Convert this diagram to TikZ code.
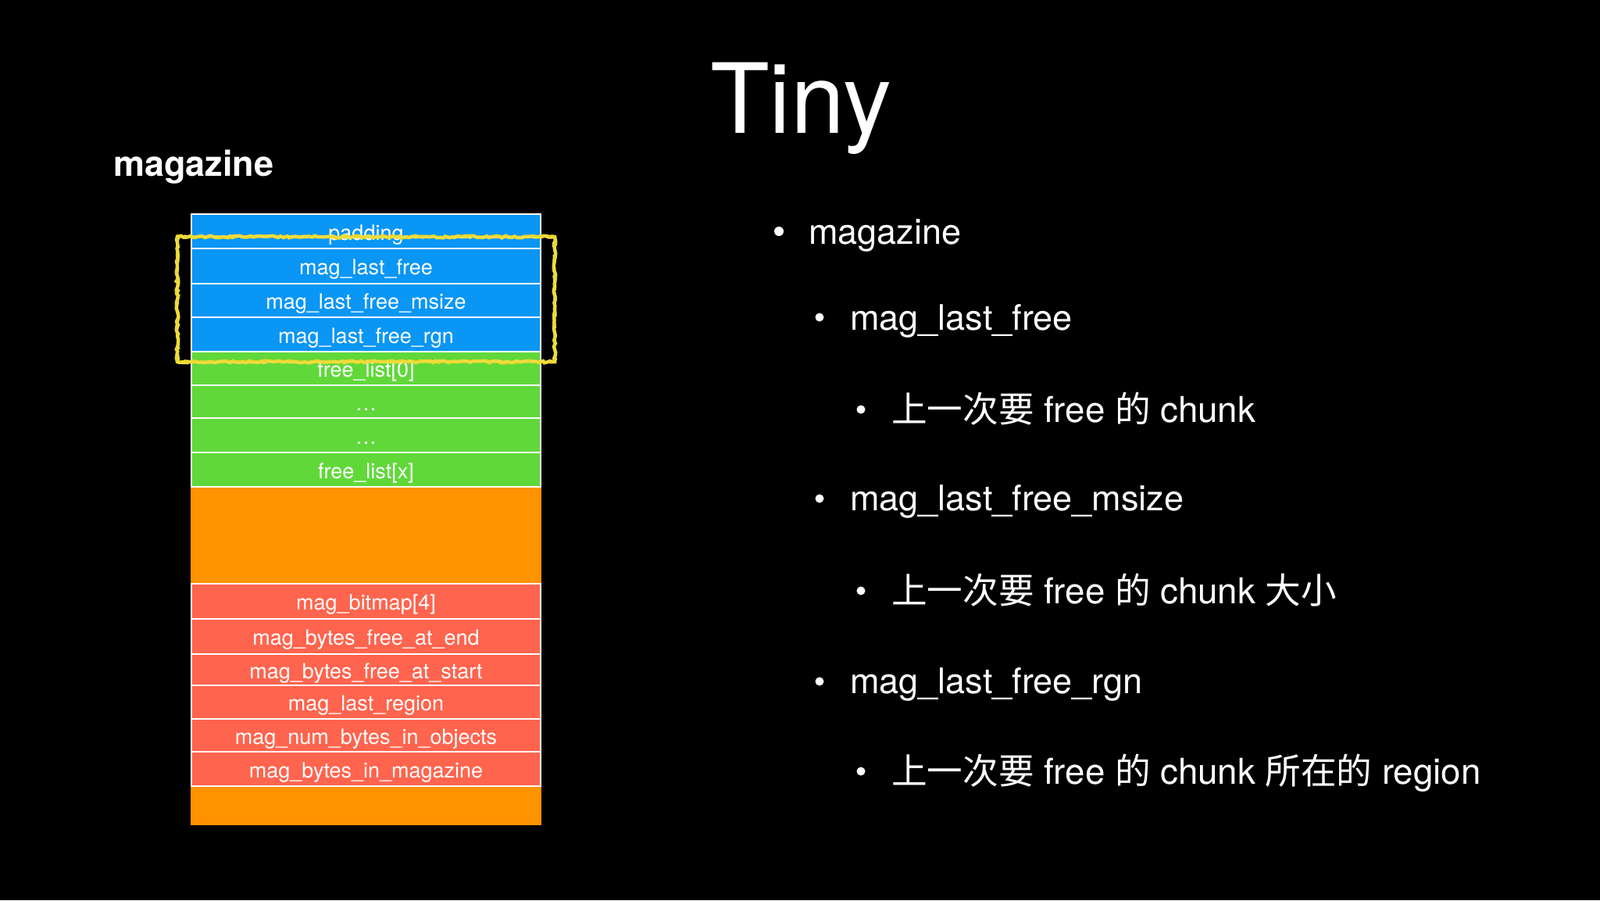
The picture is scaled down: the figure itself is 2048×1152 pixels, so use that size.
\documentclass[tikz,border=0pt]{standalone}
\usepackage{fontspec}
\setmainfont{TeX Gyre Heros}
\newfontfamily\cjk{Noto Sans CJK SC}
\usetikzlibrary{decorations.pathmorphing}
\definecolor{kblue}{RGB}{10,150,245}
\definecolor{kgreen}{RGB}{97,216,58}
\definecolor{korange}{RGB}{255,147,0}
\definecolor{kred}{RGB}{255,100,78}
\definecolor{kyellow}{RGB}{236,216,40}
\begin{document}
\begin{tikzpicture}[x=1pt,y=-1pt,
  row/.style={draw=white,line width=2.2pt,minimum width=447pt,inner sep=0pt,outer sep=0pt,
    anchor=north west,text=white,font=\fontsize{27}{32}\selectfont,
    text height=22pt,text depth=0pt},
  fillblock/.style={fill=korange,minimum width=449pt,inner sep=0pt,outer sep=0pt,anchor=north west},
  txt/.style={anchor=base west,text=white,font=\fontsize{45}{54}\selectfont,inner sep=0pt},
  txtc/.style={anchor=base west,text=white,font=\fontsize{45.6}{54}\selectfont,inner sep=0pt},
  bul/.style={circle,fill=white,minimum size=12pt,inner sep=0pt}]
\fill[black] (0,0) rectangle (2048,1152);
\useasboundingbox (0,0) rectangle (2048,1152);

\node[anchor=base,text=white,font=\fontsize{124}{140}\selectfont,inner sep=0pt] (title) at (1025,170) {Tiny};
\node[anchor=base west,text=white,font=\bfseries\fontsize{45}{52}\selectfont,inner sep=0pt] (head) at (145,225) {magazine};

% stack
\node[fillblock,minimum height=124pt] (or1) at (244,623) {};
\node[fillblock,minimum height=50pt] (or2) at (244,1006) {};
\node[row,fill=kblue,minimum height=44pt] (pad) at (245,274) {padding};
\node[row,fill=kblue,minimum height=45pt] (mlf) at (245,318) {mag\_last\_free};
\node[row,fill=kblue,minimum height=43pt] (msz) at (245,363) {mag\_last\_free\_msize};
\node[row,fill=kblue,minimum height=44pt] (rgn) at (245,406) {mag\_last\_free\_rgn};
\node[row,fill=kgreen,minimum height=43pt] (fl0) at (245,450) {free\_list[0]};
\node[row,fill=kgreen,minimum height=42pt] (d1) at (245,493) {…};
\node[row,fill=kgreen,minimum height=44pt] (d2) at (245,535) {…};
\node[row,fill=kgreen,minimum height=44pt] (flx) at (245,579) {free\_list[x]};
\node[row,fill=kred,minimum height=45pt] (bmp) at (245,747) {mag\_bitmap[4]};
\node[row,fill=kred,minimum height=45pt] (bend) at (245,792) {mag\_bytes\_free\_at\_end};
\node[row,fill=kred,minimum height=40pt] (bstart) at (245,837) {mag\_bytes\_free\_at\_start};
\node[row,fill=kred,minimum height=43pt] (lreg) at (245,877) {mag\_last\_region};
\node[row,fill=kred,minimum height=42pt] (nbytes) at (245,920) {mag\_num\_bytes\_in\_objects};
\node[row,fill=kred,minimum height=44pt] (bmag) at (245,962) {mag\_bytes\_in\_magazine};

% yellow highlight
\draw[kyellow,line width=4.5pt,decorate,decoration={random steps,segment length=4pt,amplitude=1.3pt}]
  (227,303) -- (710,303) -- (710,463) -- (227,463) -- cycle;
\draw[kyellow!85!white,line width=2pt,decorate,decoration={random steps,segment length=3pt,amplitude=1.5pt}]
  (228,302) -- (709,304) -- (711,462) -- (228,464) -- cycle;

% bullets
\node[bul] (b1) at (997,296) {};
\node[txt] (t1) at (1035,312) {magazine};
\node[bul,minimum size=11pt] (b2) at (1049,406) {};
\node[txt] (t2) at (1088,422) {mag\_last\_free};
\node[bul,minimum size=11pt] (b3) at (1102,524) {};
\node[txtc] (t3) at (1141,540) {\cjk 上一次要\rmfamily{} free \cjk 的\rmfamily{} chunk};
\node[bul,minimum size=11pt] (b4) at (1049,638) {};
\node[txt] (t4) at (1088,653) {mag\_last\_free\_msize};
\node[bul,minimum size=11pt] (b5) at (1102,756) {};
\node[txtc] (t5) at (1141,772) {\cjk 上一次要\rmfamily{} free \cjk 的\rmfamily{} chunk \cjk 大小};
\node[bul,minimum size=11pt] (b6) at (1049,872) {};
\node[txt] (t6) at (1088,887) {mag\_last\_free\_rgn};
\node[bul,minimum size=11pt] (b7) at (1102,987) {};
\node[txtc] (t7) at (1141,1003) {\cjk 上一次要\rmfamily{} free \cjk 的\rmfamily{} chunk \cjk 所在的\rmfamily{} region};
\end{tikzpicture}
\end{document}
